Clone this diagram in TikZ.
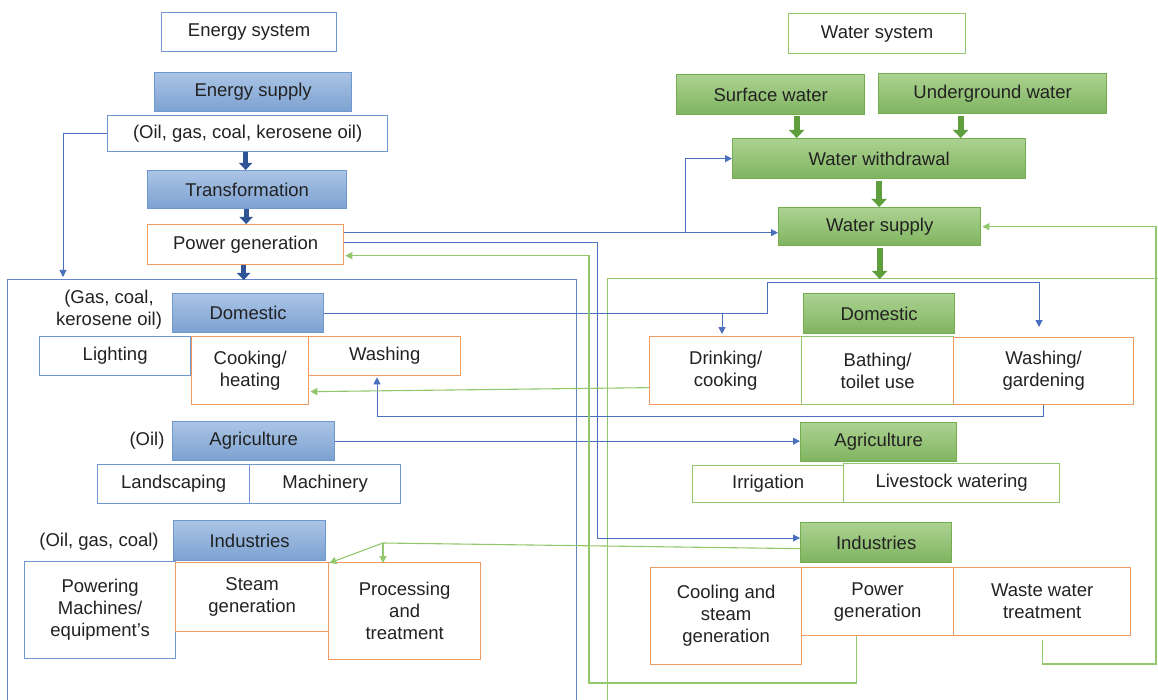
\documentclass[tikz,border=0pt]{standalone}
\usepackage{fontspec}
\setmainfont{Liberation Sans}
\usetikzlibrary{arrows.meta,calc}
\definecolor{txt}{HTML}{222222}
\definecolor{eb}{HTML}{4A70BE}
\definecolor{ebord}{HTML}{7098D0}
\definecolor{efT}{HTML}{AAC4E5}
\definecolor{efB}{HTML}{7CA1D1}
\definecolor{orb}{HTML}{EE9A62}
\definecolor{gbord}{HTML}{92C66F}
\definecolor{gbord2}{HTML}{74AC50}
\definecolor{wfT}{HTML}{ACD291}
\definecolor{wfB}{HTML}{7FB45F}
\definecolor{gcon}{HTML}{92C76D}
\definecolor{tb}{HTML}{2F5597}
\definecolor{tg}{HTML}{5E9E3C}
\newcommand{\myfs}{\fontsize{18.5}{22}\selectfont}
\newcommand{\bx}[7]{\node[#6, minimum width={(#4-#2)*1pt}, minimum height={(#5-#3)*1pt}] (#1) at (#2,#3) {#7};}
\tikzset{
 base/.style={draw, line width=1.3pt, inner sep=0pt, align=center, text=txt, font=\myfs, anchor=north west},
 ewhite/.style={base, draw=ebord, fill=white},
 efill/.style={base, draw=ebord, top color=efT, bottom color=efB},
 eor/.style={base, draw=orb, fill=white},
 wwhite/.style={base, draw=gbord, fill=white},
 wfill/.style={base, draw=gbord2, top color=wfT, bottom color=wfB},
 plain/.style={inner sep=0pt, align=center, text=txt, font=\myfs},
 bl/.style={draw=eb, line width=1pt},
 gl/.style={draw=gcon, line width=1.1pt},
 tip/.style={-{Triangle[length=7pt,width=7pt]}},
 thickb/.style={draw=tb, line width=5pt, -{Triangle[length=7pt,width=13pt]}},
 thickg/.style={draw=tg, line width=6pt, -{Triangle[length=8pt,width=15pt]}},
 frameb/.style={draw=eb!85!white, line width=1.2pt},
 frameg/.style={draw=gcon, line width=1.2pt}
}
\begin{document}
\begin{tikzpicture}[x=1pt,y=-1pt]
\clip (0,0) rectangle (1158,700);
\fill[white] (0,0) rectangle (1158,700);
% big frames
\node[frameb, anchor=north west, inner sep=0pt, minimum width=569pt, minimum height=441pt] (ebig) at (7,279) {};
\node[frameg, anchor=north west, inner sep=0pt, minimum width=563pt, minimum height=441pt] (wbig) at (607,278) {};
% energy nodes
\bx{esys}{161}{12}{336}{51}{ewhite}{Energy system}
\bx{esup}{154}{72}{351}{111}{efill}{Energy supply}
\bx{eoil}{107}{115}{387}{151}{ewhite}{(Oil, gas, coal, kerosene oil)}
\bx{etr}{147}{170}{346}{208}{efill}{Transformation}
\bx{epg}{147}{224}{343}{264}{eor}{Power generation}
\bx{edom}{172}{293}{323}{332}{efill}{Domestic}
\node[plain] (edomlab) at (109,310) {(Gas, coal,\\kerosene oil)};
\bx{elig}{39}{336}{190}{375}{ewhite}{Lighting}
\bx{ecook}{191}{336}{308}{404}{eor}{Cooking/\\heating}
\bx{ewash}{308}{336}{460}{375}{eor}{Washing}
\bx{eagr}{172}{421}{334}{460}{efill}{Agriculture}
\node[plain] (eagrlab) at (147,441) {(Oil)};
\bx{eland}{97}{464}{249}{503}{ewhite}{Landscaping}
\bx{emach}{249}{464}{400}{503}{ewhite}{Machinery}
\bx{eind}{173}{520}{325}{560}{efill}{Industries}
\node[plain] (eindlab) at (99,542) {(Oil, gas, coal)};
\bx{epow}{24}{561}{175}{658}{ewhite}{Powering\\Machines/\\equipment's}
\bx{esteam}{175}{562}{328}{631}{eor}{Steam\\generation}
\bx{eproc}{328}{562}{480}{659}{eor}{Processing\\and\\treatment}
% water nodes
\bx{wsys}{788}{13}{965}{53}{wwhite}{Water system}
\bx{wsurf}{676}{74}{864}{114}{wfill}{Surface water}
\bx{wund}{878}{73}{1106}{113}{wfill}{Underground water}
\bx{wwd}{732}{138}{1025}{178}{wfill}{Water withdrawal}
\bx{wsup}{778}{207}{980}{245}{wfill}{Water supply}
\bx{wdom}{803}{293}{954}{333}{wfill}{Domestic}
\bx{wdrink}{649}{336}{801}{404}{eor}{Drinking/\\cooking}
\bx{wbath}{801}{336}{953}{404}{wwhite}{Bathing/\\toilet use}
\bx{wwashg}{953}{337}{1133}{404}{eor}{Washing/\\gardening}
\bx{wagr}{800}{422}{956}{461}{wfill}{Agriculture}
\bx{wirr}{692}{465}{843}{502}{wwhite}{Irrigation}
\bx{wlive}{843}{463}{1059}{502}{wwhite}{Livestock watering}
\bx{wind}{800}{522}{951}{562}{wfill}{Industries}
\bx{wcool}{650}{567}{801}{664}{eor}{Cooling and\\steam\\generation}
\bx{wpow}{801}{567}{953}{635}{eor}{Power\\generation}
\bx{wwaste}{953}{567}{1130}{635}{eor}{Waste water\\treatment}
% thick arrows
\draw[thickb] ([xshift=-2pt]eoil.south) -- ([xshift=-2pt]eoil.south |- etr.north);
\draw[thickb] ([xshift=-1pt]etr.south) -- ([xshift=-1pt]etr.south |- epg.north);
\draw[thickb] ([xshift=-2pt]epg.south) -- ([xshift=-2pt,yshift=-1pt]epg.south |- ebig.north);
\draw[thickg] ([xshift=26pt,yshift=-1pt]wsurf.south) -- ([xshift=26pt]wsurf.south |- wwd.north);
\draw[thickg] ([xshift=-32pt,yshift=-2pt]wund.south) -- ([xshift=-32pt]wund.south |- wwd.north);
\draw[thickg] ([yshift=-2pt]wwd.south) -- (wwd.south |- wsup.north);
\draw[thickg] ([yshift=-2pt]wsup.south) -- ([yshift=-1pt]wsup.south |- wbig.north);
% coordinates
\coordinate (c1) at (63,277);
\coordinate (j1) at (685,232);
\coordinate (k1) at (597,538);
\coordinate (g1) at (589,683);
\coordinate (d1) at (767,283);
\coordinate (d2) at (1039,327);
\coordinate (d3) at (722,334);
\coordinate (w1) at (377,416);
\coordinate (s1) at (383,543);
\coordinate (r1) at (1156,664);
% blue connectors
\draw[bl,tip] (eoil.west) -| (c1);
\draw[bl,tip] ([yshift=12pt]epg.east) -- ([yshift=12pt]epg.east -| wsup.west);
\draw[bl,tip] (j1) |- (wwd.west);
\draw[bl,tip] ([yshift=2pt]epg.east) -| (k1) -- (k1 -| wind.west);
\draw[bl,tip] (edom.east) -| (d1) -| (d2);
\draw[bl,tip] (edom.east -| d3) -- (d3);
\draw[bl,tip] (wwashg.south) |- (w1) -- ([yshift=-1pt]w1 |- ewash.south);
\draw[bl,tip] (eagr.east) -- (eagr.east -| wagr.west);
% green connectors
\draw[gl,tip] ([xshift=-21pt]wpow.south) |- (g1) |- ([yshift=-11pt,xshift=1pt]epg.east);
\draw[gl,tip] ([yshift=-17pt]wdrink.west) -- ([yshift=-21pt,xshift=1pt]ecook.east);
\draw[gl,tip] ([yshift=-6pt]wind.west) -- (s1) -- ([yshift=-1pt]esteam.north east);
\draw[gl,tip] (s1) -- ([yshift=-1pt]s1 |- eproc.north);
\draw[gl,tip] ([yshift=-4pt]wwaste.south) |- (r1) |- ([xshift=1pt]wsup.east);
\end{tikzpicture}
\end{document}
